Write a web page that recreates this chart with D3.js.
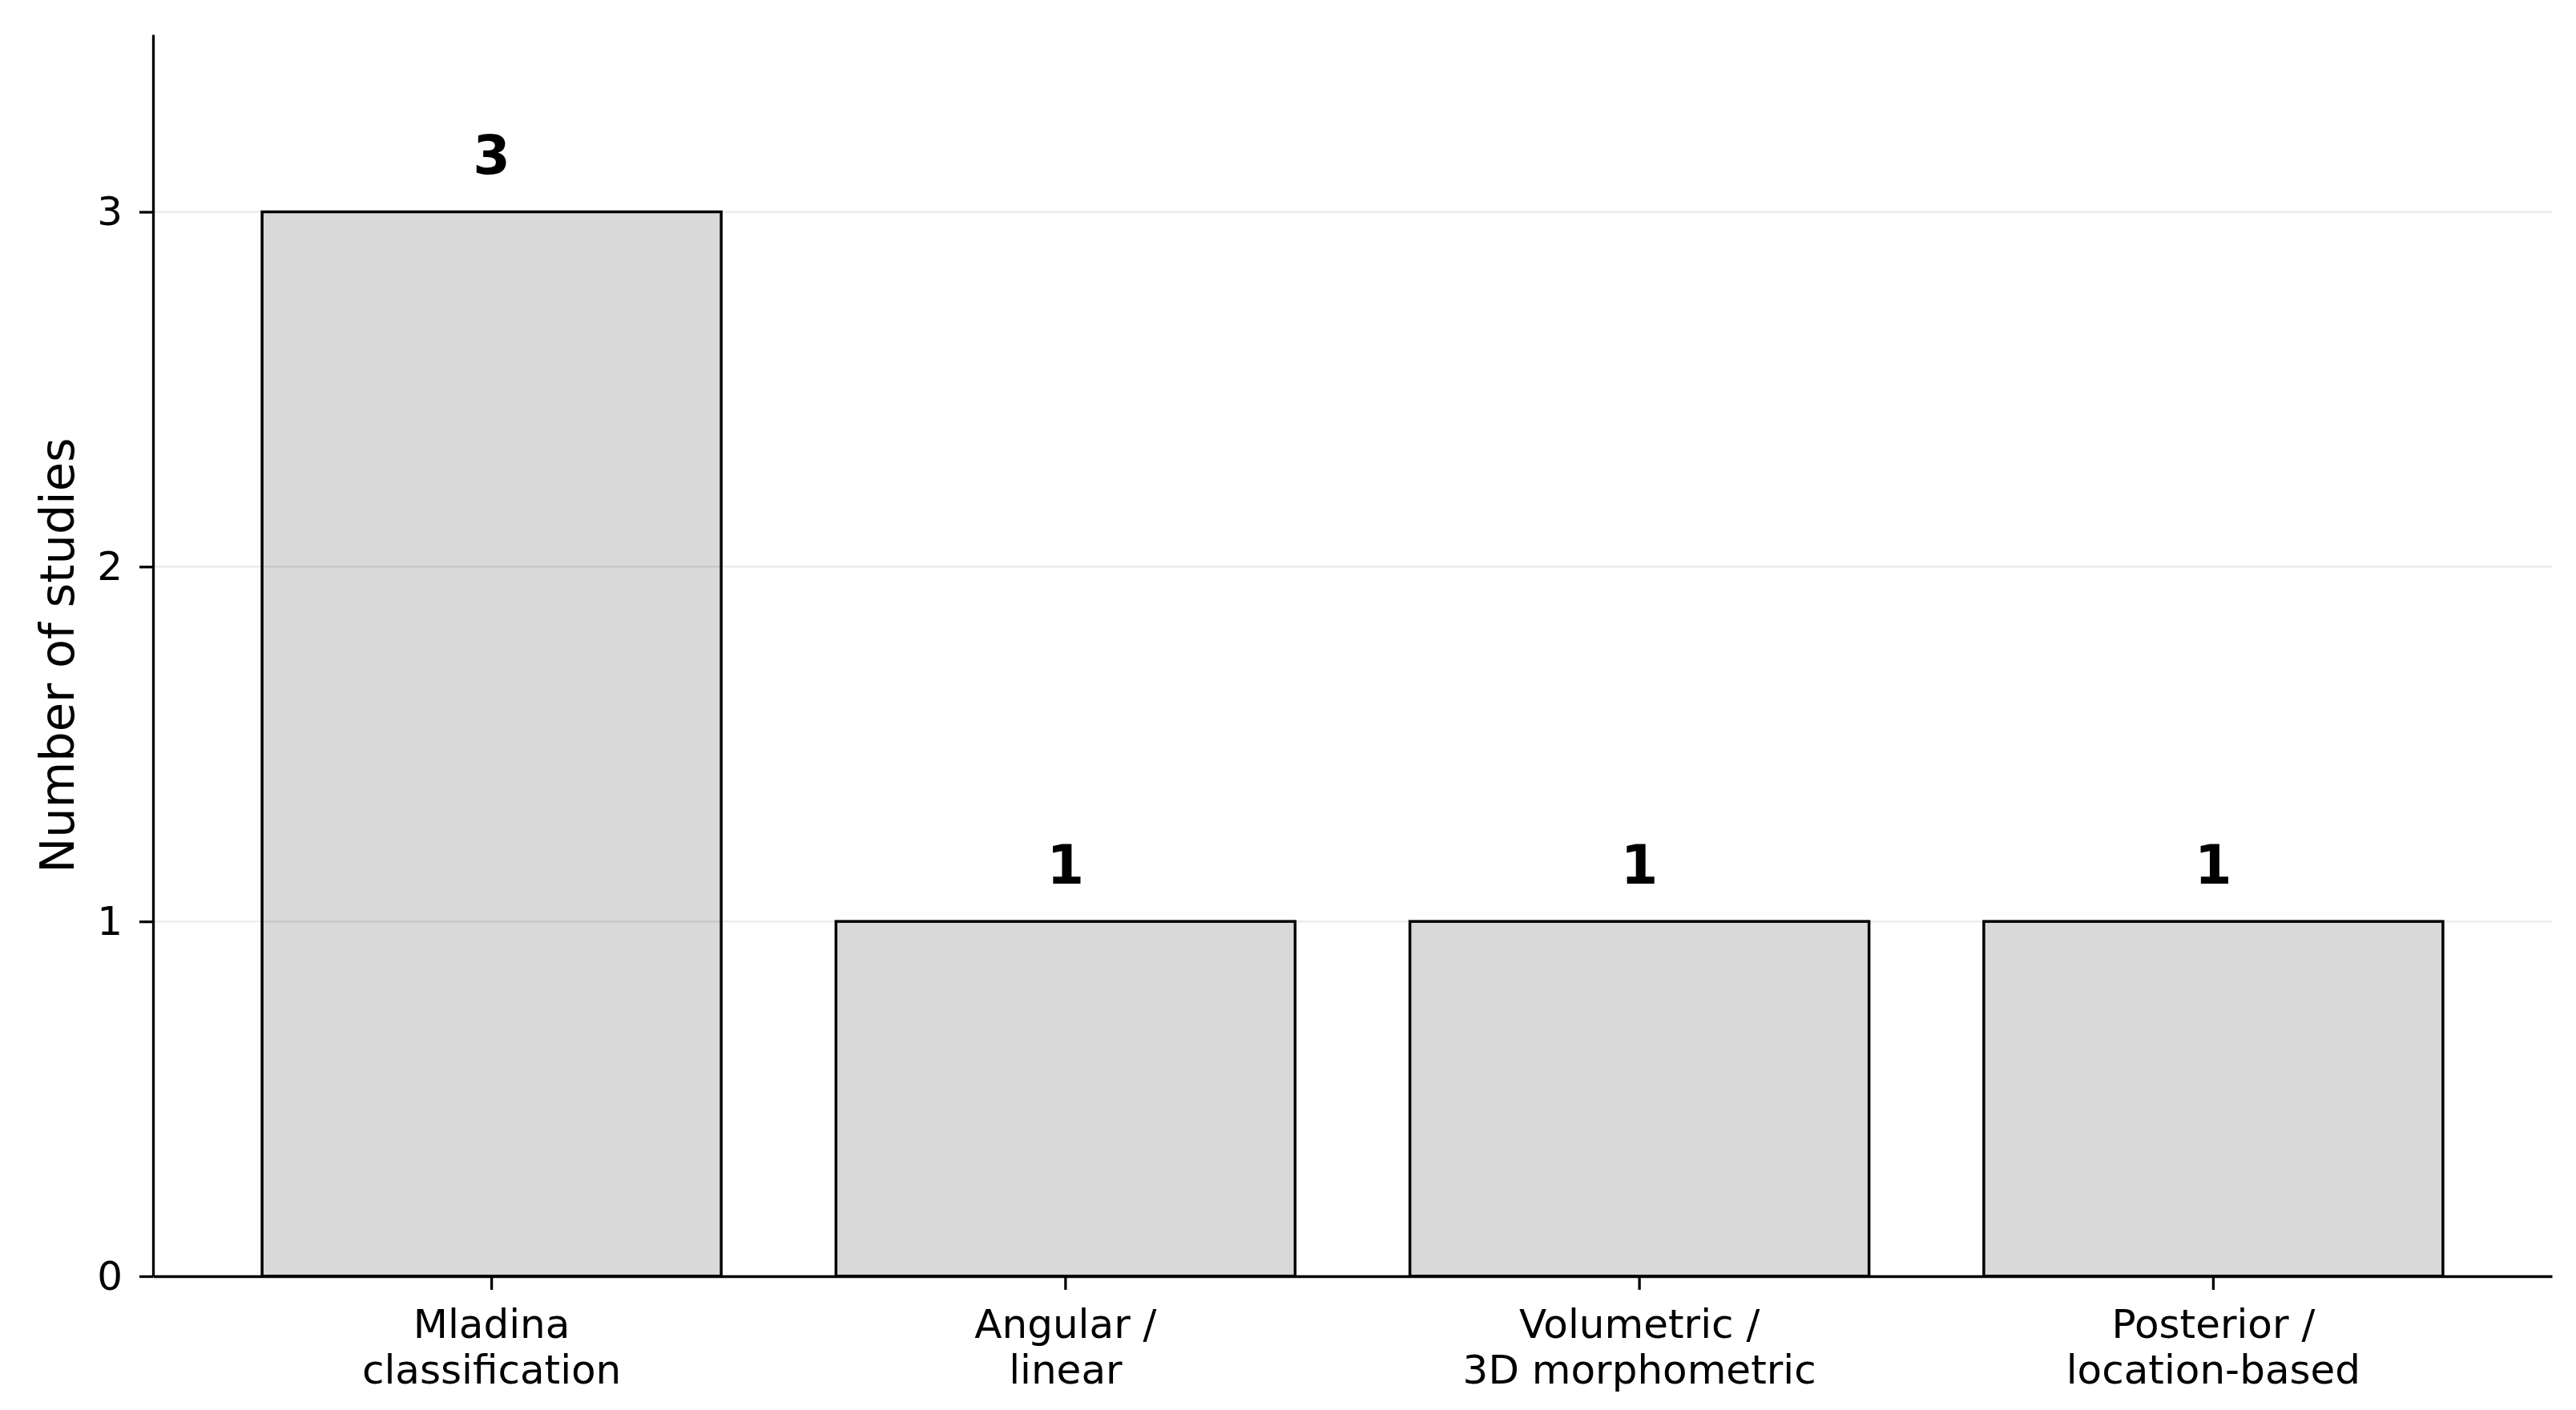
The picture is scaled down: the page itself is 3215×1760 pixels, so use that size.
<!DOCTYPE html>
<html>
<head>
<meta charset="utf-8">
<script src="https://cdn.jsdelivr.net/npm/d3@7"></script>
<style>
  body { margin: 0; background: #fff; }
  text { font-family: "DejaVu Sans", sans-serif; fill: #000; }
</style>
</head>
<body>
<div id="container"></div>
<script>
let w = 3215;
let h = 1760;

// chart data
let categories = ["Mladina\nclassification", "Angular /\nlinear", "Volumetric /\n3D morphometric", "Posterior /\nlocation-based"];
let studyCounts = [3, 1, 1, 1];
let yTickValues = [0, 1, 2, 3];
let yLabel = "Number of studies";

let margin = {top: 43, right: 30, bottom: 167, left: 191};

let viz = d3.select("#container")
  .append("svg")
    .attr("width", w)
    .attr("height", h)
    .style("background-color", "white");

let xScale = d3.scaleBand()
  .domain(categories)
  .range([margin.left, w - margin.right])
  .paddingInner(0.2)
  .paddingOuter(0.19);

let yScale = d3.scaleLinear()
  .domain([0, 3.5])
  .range([h - margin.bottom, margin.top]);

let data = categories.map((c, i) => ({name: c, value: studyCounts[i]}));

// bars
viz.append("g").attr("class", "bars")
  .selectAll("rect").data(data).enter()
  .append("rect")
    .attr("x", d => xScale(d.name))
    .attr("y", d => yScale(d.value))
    .attr("width", xScale.bandwidth())
    .attr("height", d => yScale(0) - yScale(d.value))
    .attr("fill", "#d9d9d9")
    .attr("stroke", "#000")
    .attr("stroke-width", 3.5);

// light horizontal grid, sits over the bars
viz.append("g").attr("class", "grid")
  .selectAll("line").data(yTickValues.filter(v => v > 0)).enter()
  .append("line")
    .attr("x1", margin.left)
    .attr("x2", w - margin.right)
    .attr("y1", d => yScale(d))
    .attr("y2", d => yScale(d))
    .attr("stroke", "#000")
    .attr("stroke-opacity", 0.075)
    .attr("stroke-width", 2.5);

// value labels
viz.append("g").attr("class", "values")
  .selectAll("text").data(data).enter()
  .append("text")
    .attr("x", d => xScale(d.name) + xScale.bandwidth() / 2)
    .attr("y", d => yScale(d.value) - 47)
    .attr("text-anchor", "middle")
    .attr("font-size", 67)
    .attr("font-weight", "bold")
    .text(d => d.value);

// y axis
let yAxis = d3.axisLeft(yScale).tickValues(yTickValues).tickFormat(d3.format("d"))
  .tickSize(17).tickPadding(21).tickSizeOuter(0);
let yAxisGroup = viz.append("g").attr("class", "yaxis")
  .attr("transform", "translate(" + margin.left + ",0)")
  .call(yAxis);
yAxisGroup.selectAll("text").attr("font-size", 50).attr("font-family", "DejaVu Sans").attr("fill", "#000");
yAxisGroup.selectAll("line").attr("stroke-width", 3.3);
yAxisGroup.select(".domain").attr("stroke-width", 3.3);

// x axis
let xAxis = d3.axisBottom(xScale).tickSize(17).tickSizeOuter(0);
let xAxisGroup = viz.append("g").attr("class", "xaxis")
  .attr("transform", "translate(0," + (h - margin.bottom) + ")")
  .call(xAxis);
xAxisGroup.select(".domain").attr("stroke-width", 3.3);
xAxisGroup.selectAll("line").attr("stroke-width", 3.3);
xAxisGroup.selectAll("text").each(function(d) {
  let t = d3.select(this);
  t.text(null).attr("y", 77).attr("dy", null)
    .attr("font-size", 50).attr("font-family", "DejaVu Sans").attr("fill", "#000");
  d.split("\n").forEach((line, i) => {
    t.append("tspan").attr("x", 0).attr("dy", i === 0 ? 0 : 57).text(line);
  });
});

// y axis title
viz.append("text")
  .attr("transform", "translate(92," + ((margin.top + h - margin.bottom) / 2) + ") rotate(-90)")
  .attr("text-anchor", "middle")
  .attr("font-size", 59)
  .text(yLabel);
</script>
</body>
</html>
